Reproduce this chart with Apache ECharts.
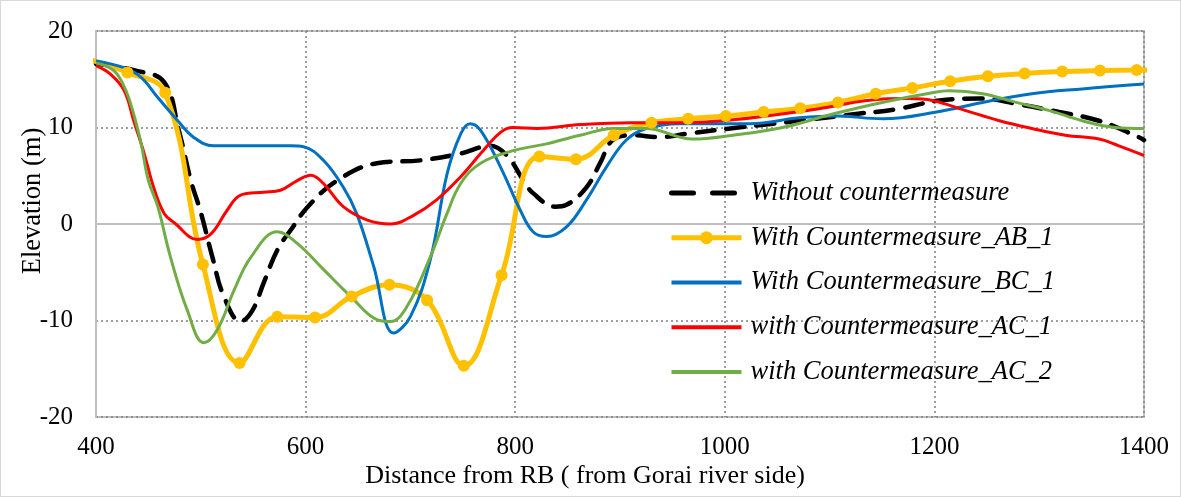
<!DOCTYPE html>
<html><head><meta charset="utf-8">
<script src="https://cdn.jsdelivr.net/npm/echarts@6/dist/echarts.min.js"></script>
<style>html,body{margin:0;padding:0;background:#fff}#c{width:1181px;height:497px;box-sizing:border-box;border:1px solid #d9d9d9}</style>
</head><body><div id="c"></div>
<script>
const seriesNames = ['Without countermeasure','With Countermeasure_AB_1','With Countermeasure_BC_1','with Countermeasure_AC_1','with Countermeasure_AC_2'];
const xTicks = [400,600,800,1000,1200,1400];
const yTicks = [-20,-10,0,10,20];

const noneX = [400,438,465,479,490.5,500,511,522,538,549,560,573,586,603,630,668,710,748,776,792,808,817,838,849,868,881,893,912,938,964,1005,1046,1087,1125,1164,1205,1243,1281,1319,1357,1395,1400];
const noneY = [16.6,15.9,14.7,9.7,4.5,1.2,-3.4,-7.5,-10.1,-9.0,-6.1,-2.7,-0.6,1.9,4.5,6.3,6.6,7.3,8.1,7.1,4.5,3.2,1.8,2.0,3.8,6.3,8.7,9.2,9.0,9.35,9.9,10.4,10.9,11.4,11.9,12.8,13.0,12.4,11.6,10.7,9.0,8.7];

const abX = [395,430,466,502,537,573,609,644,680,716,751,787,823,858,894,930,965,1001,1037,1072,1108,1144,1179,1215,1251,1286,1322,1358,1393,1429];
const abY = [17.0,15.7,13.6,-4.2,-14.4,-9.6,-9.7,-7.5,-6.3,-7.9,-14.7,-5.3,7.0,6.7,9.2,10.5,10.9,11.2,11.6,12.0,12.6,13.5,14.1,14.8,15.3,15.6,15.8,15.9,15.95,16.0];

const bcX = [400,426.7,443,459,478,493,512,538,586,598,617,636,649,665,684,700,719,735,748,757,767,786,805,817,830,849,868,887,906,925,957,1024,1071,1106,1151,1202,1246,1293,1341,1400];
const bcY = [16.9,16.2,15.2,13.1,10.7,9.0,8.1,8.1,8.1,8.0,6.6,3.8,1.0,-4.4,-11.3,-9.6,-3.7,5.2,9.35,10.4,9.7,5.9,1.4,-0.8,-1.3,-0.3,2.5,5.9,8.7,9.9,10.4,10.4,11.0,11.2,10.9,11.6,12.6,13.5,14.0,14.5];

const ac1X = [400,414,427,436,446,455,465,475,497,510,525,538,560,576,592,605,617,636,659,681,703,725,748,767,786,798,821,862,910,957,1008,1087,1151,1176,1198,1230,1262,1293,1325,1357,1376,1400];
const ac1Y = [16.4,15.5,13.8,10.7,7.3,3.8,1.1,0.1,-1.6,-1.0,1.4,3.0,3.3,3.5,4.5,5.05,4.2,1.8,0.4,0.0,0.9,2.5,4.9,7.3,9.5,10.0,9.9,10.3,10.5,10.5,10.8,11.9,12.95,13.0,12.8,11.75,10.7,9.9,9.2,8.8,8.1,7.1];

const ac2X = [400,417,427,435,443,450,459,471,487,503,516,532,548,573,592,617,643,668,681,697,719,735,748,767,798,830,862,894,925,957,969,1008,1055,1103,1150,1198,1214,1246,1278,1310,1341,1373,1400];
const ac2Y = [16.7,15.9,14.2,11.75,8.35,4.5,1.8,-3.4,-8.9,-12.3,-10.9,-6.8,-3.4,-0.8,-2.0,-4.7,-7.5,-9.9,-10.1,-8.5,-3.4,1.1,4.2,6.3,7.6,8.3,9.2,9.9,9.9,9.0,8.8,9.2,10.0,11.4,12.6,13.6,13.8,13.5,12.6,11.75,10.7,10.0,9.9];

const zip = (xs, ys) => xs.map((x, i) => [x, ys[i]]);
const FONT = 'Liberation Serif';
const hidden = {opacity: 0, color: 'rgba(0,0,0,0)', borderWidth: 0};

const chart = echarts.init(document.getElementById('c'), null, {renderer: 'canvas'});
chart.setOption({
  animation: false,
  backgroundColor: '#fff',
  grid: {left: 95, right: 36, top: 30, bottom: 79, show: true, borderColor: '#bfbfbf', borderWidth: 2},
  xAxis: {
    type: 'value', min: xTicks[0], max: xTicks[xTicks.length-1], interval: 200,
    name: 'Distance from RB ( from Gorai river side)', nameLocation: 'middle', nameGap: 46, nameMoveOverlap: false,
    nameTextStyle: {fontFamily: FONT, fontSize: 26, color: '#000', padding: [0, 70, 0, 0]},
    axisLine: {show: true, lineStyle: {color: '#bfbfbf', width: 2}},
    axisTick: {show: false},
    axisLabel: {fontFamily: FONT, fontSize: 25, color: '#000', margin: 18, formatter: v => String(v)},
    splitLine: {show: true, lineStyle: {color: '#808080', width: 1.5, type: [2, 3]}}
  },
  yAxis: {
    type: 'value', min: yTicks[0], max: yTicks[yTicks.length-1], interval: 10,
    name: 'Elevation (m)', nameLocation: 'middle', nameGap: 49, nameMoveOverlap: false,
    nameTextStyle: {fontFamily: FONT, fontSize: 26.5, color: '#000', padding: [0, 0, 0, 46]},
    axisLine: {show: true, lineStyle: {color: '#bfbfbf', width: 2}},
    axisTick: {show: false},
    axisLabel: {fontFamily: FONT, fontSize: 25, color: '#000', margin: 23, formatter: v => String(v)},
    splitLine: {show: true, lineStyle: {color: '#808080', width: 1.5, type: [2, 3]}}
  },
  legend: {
    orient: 'vertical', left: 663, top: 172, itemWidth: 70, itemHeight: 16, itemGap: 14.75,
    textStyle: {fontFamily: FONT, fontStyle: 'italic', fontSize: 26.5, color: '#000', lineHeight: 30, padding: [0,0,0,4]},
    data: [
      {name: seriesNames[0], itemStyle: hidden, lineStyle: {type: [22, 19], width: 5}},
      {name: seriesNames[1], lineStyle: {width: 5}},
      {name: seriesNames[2], itemStyle: hidden, lineStyle: {width: 4}},
      {name: seriesNames[3], itemStyle: hidden, lineStyle: {width: 4}},
      {name: seriesNames[4], itemStyle: hidden, lineStyle: {width: 4}}
    ]
  },
  series: [
    {name: seriesNames[0], type: 'line', data: zip(noneX, noneY), smooth: 0.4, symbol: 'none',
     lineStyle: {color: '#000', width: 4.5, type: [18, 12], cap: 'round'}, itemStyle: {color: '#000'}},
    {name: seriesNames[1], type: 'line', data: zip(abX, abY), smooth: 0.4, symbol: 'circle', symbolSize: 12, showSymbol: true,
     lineStyle: {color: '#FFC000', width: 5}, itemStyle: {color: '#FFC000'}},
    {name: seriesNames[2], type: 'line', data: zip(bcX, bcY), smooth: 0.4, symbol: 'none',
     lineStyle: {color: '#0070C0', width: 3}, itemStyle: {color: '#0070C0'}},
    {name: seriesNames[3], type: 'line', data: zip(ac1X, ac1Y), smooth: 0.4, symbol: 'none',
     lineStyle: {color: '#FF0000', width: 3}, itemStyle: {color: '#FF0000'}},
    {name: seriesNames[4], type: 'line', data: zip(ac2X, ac2Y), smooth: 0.4, symbol: 'none',
     lineStyle: {color: '#70AD47', width: 3}, itemStyle: {color: '#70AD47'}}
  ]
});
</script></body></html>
